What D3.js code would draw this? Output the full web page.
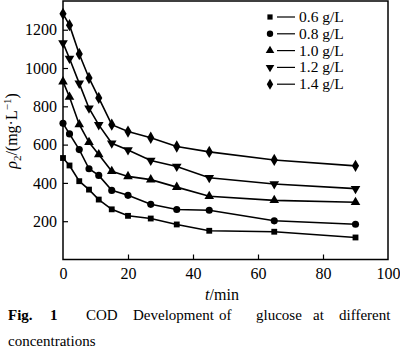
<!DOCTYPE html>
<html><head><meta charset="utf-8">
<script src="https://cdn.jsdelivr.net/npm/d3@7"></script>
<style>body{margin:0;background:#fff}svg{display:block}text{font-family:"Liberation Serif","Times New Roman",serif}</style>
</head><body><svg id="c" width="400" height="353"></svg>
<script>
const times = [0, 2, 5, 8, 11, 15, 20, 27, 35, 45, 65, 90];
const s06 = [530, 491, 409, 365, 313, 262, 228, 214, 183, 150, 145, 115];
const s08 = [711, 656, 574, 474, 439, 361, 335, 288, 261, 257, 202, 184];
const s10 = [929, 849, 705, 612, 548, 461, 434, 417, 378, 330, 309, 299];
const s12 = [1131, 1050, 920, 790, 703, 607, 572, 517, 486, 427, 394, 370];
const s14 = [1283, 1224, 1073, 948, 844, 704, 668, 636, 590, 562, 520, 489];
const seriesNames = ["0.6 g/L", "0.8 g/L", "1.0 g/L", "1.2 g/L", "1.4 g/L"];
const seriesValues = [s06, s08, s10, s12, s14];
const xTicks = [0, 20, 40, 60, 80, 100];
const yTicks = [200, 400, 600, 800, 1000, 1200];

const svg = d3.select("#c");
const L = 63, R = 388, T = 1, B = 259.5;
const x = d3.scaleLinear().domain([0, 100]).range([L, R]);
const y = d3.scaleLinear().domain([0, 1350]).range([B, T]);

svg.append("rect").attr("x", L).attr("y", T).attr("width", R - L).attr("height", B - T)
  .attr("fill", "none").attr("stroke", "#000").attr("stroke-width", 1.5);

const xa = svg.append("g").attr("transform", `translate(0,${B})`)
  .call(d3.axisBottom(x).tickValues(xTicks).tickSize(-5).tickPadding(8).tickFormat(d => d));
xa.select(".domain").remove();
xa.selectAll("line").attr("stroke-width", 1.2);
xa.selectAll("line").filter(d => d === 0 || d === 100).remove();
xa.selectAll("text").attr("font-size", 16).attr("fill", "#000").attr("font-family", "Liberation Serif");

const ya = svg.append("g").attr("transform", `translate(${L},0)`)
  .call(d3.axisLeft(y).tickValues(yTicks).tickSize(-5).tickPadding(6).tickFormat(d => d));
ya.select(".domain").remove();
ya.selectAll("line").attr("stroke-width", 1.2);
ya.selectAll("text").attr("font-size", 16).attr("fill", "#000").attr("font-family", "Liberation Serif");

const shapes = [d3.symbolSquare, d3.symbolCircle, d3.symbolTriangle, d3.symbolTriangle, d3.symbolDiamond];
const sizes = [34, 40, 40, 40, 44];
const rot = [0, 0, 0, 180, 0];
const line = d3.line().x((d, i) => x(times[i])).y(d => y(d));

seriesValues.forEach((vals, k) => {
  svg.append("path").attr("d", line(vals)).attr("fill", "none").attr("stroke", "#000").attr("stroke-width", 1.6);
  svg.append("g").selectAll("path").data(vals).join("path")
    .attr("d", d3.symbol().type(shapes[k]).size(sizes[k]))
    .attr("transform", (d, i) => `translate(${x(times[i])},${y(d)}) rotate(${rot[k]})`)
    .attr("fill", "#000");
});

seriesNames.forEach((n, k) => {
  const yy = 17 + k * 16.8;
  svg.append("path").attr("d", d3.symbol().type(shapes[k]).size(sizes[k] * 0.8))
    .attr("transform", `translate(270,${yy}) rotate(${rot[k]})`).attr("fill", "#000");
  svg.append("line").attr("x1", 277).attr("x2", 295).attr("y1", yy).attr("y2", yy)
    .attr("stroke", "#000").attr("stroke-width", 1.2);
  svg.append("text").attr("x", 299).attr("y", yy + 5).attr("font-size", 15.5).text(n);
});

const yl = svg.append("text").attr("transform", "translate(17,131) rotate(-90)")
  .attr("text-anchor", "middle").attr("font-size", 16);
yl.append("tspan").attr("font-style", "italic").text("ρ");
yl.append("tspan").attr("font-size", 11).attr("dy", 4).text("2");
yl.append("tspan").attr("dy", -4).text("/(mg·L");
yl.append("tspan").attr("font-size", 11).attr("dy", -6).text("−1");
yl.append("tspan").attr("dy", 6).text(")");

const xl = svg.append("text").attr("x", 222).attr("y", 300).attr("text-anchor", "middle").attr("font-size", 16);
xl.append("tspan").attr("font-style", "italic").text("t");
xl.append("tspan").text("/min");

const cap = [["Fig.", 8, true], ["1", 50, true], ["COD", 86], ["Development", 133], ["of", 219], ["glucose", 256], ["at", 313], ["different", 339]];
cap.forEach(c => {
  svg.append("text").attr("x", c[1]).attr("y", 320).attr("font-size", 15)
    .attr("font-weight", c[2] ? "bold" : "normal").text(c[0]);
});
svg.append("text").attr("x", 8).attr("y", 346).attr("font-size", 15).text("concentrations");
</script></body></html>
